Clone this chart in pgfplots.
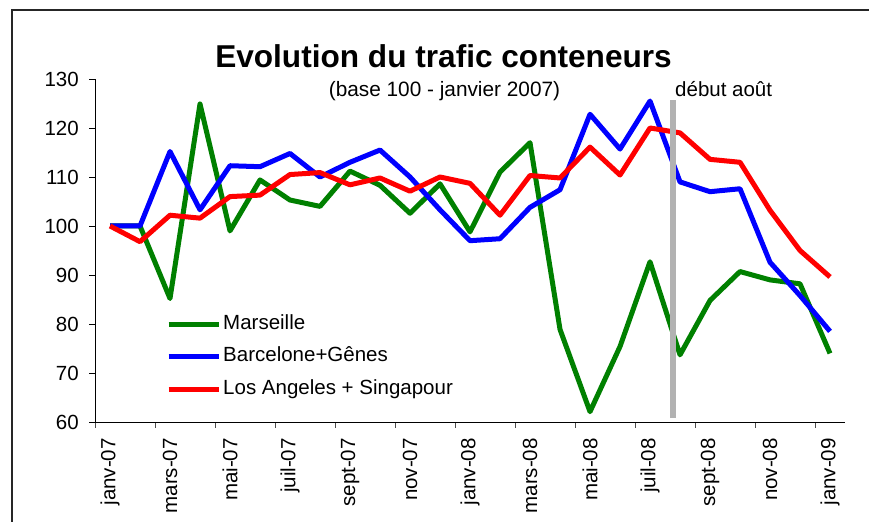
\documentclass[border=0pt]{standalone}
\usepackage{pgfplots}
\pgfplotsset{compat=1.18}
\usepackage{pgfplotstable}
\usepackage{fontspec}
\setmainfont{Liberation Sans}
\definecolor{mgreen}{RGB}{0,128,0}
\definecolor{mblue}{RGB}{0,0,255}
\definecolor{mred}{RGB}{255,0,0}
\definecolor{mgray}{RGB}{178,178,178}
\pgfplotstableread{
i  mar   bar   las
0  100   100   100
1  100   100   96.8
2  85.2  115.2 102.2
3  124.9 103.3 101.6
4  99.0  112.3 106.0
5  109.4 112.1 106.3
6  105.3 114.8 110.5
7  104.0 110.0 110.9
8  111.2 113.0 108.4
9  108.3 115.5 109.8
10 102.6 110.0 107.1
11 108.6 103.3 110.0
12 98.8  97.0  108.7
13 111.0 97.4  102.2
14 117.0 103.8 110.3
15 78.9  107.4 109.8
16 62.1  122.8 116.1
17 75.4  115.7 110.4
18 92.7  125.5 120.0
19 73.7  109.0 119.0
20 84.8  107.0 113.6
21 90.7  107.6 113.0
22 89.0  92.6  103.2
23 88.2  85.8  95.0
24 74.0  78.5  89.6
}\datatable
\begin{document}
\begin{tikzpicture}[x=1bp,y=1bp]
\useasboundingbox (0,0) rectangle (869,522);
\draw[line width=2bp, color=black!85] (12,-5) -- (12,512) -- (880,512);
\begin{axis}[
  at={(95bp,100bp)}, anchor=south west,
  width=750bp, height=343bp, scale only axis,
  xmin=-0.5, xmax=24.5, ymin=60, ymax=130,
  axis x line*=bottom, axis y line*=left,
  axis line style={line width=0.8bp, -},
  tick align=outside,
  ytick={60,70,...,130},
  major tick length=6bp, minor tick length=6bp,
  xtick={0,2,...,24},
  xticklabels={janv-07,mars-07,mai-07,juil-07,sept-07,nov-07,janv-08,mars-08,mai-08,juil-08,sept-08,nov-08,janv-09},
  x tick style={draw=none},
  minor xtick={-0.5,1.5,...,23.5},
  minor x tick style={draw=black!70, line width=0.8bp},
  y tick style={draw=black, line width=0.8bp},
  /pgf/number format/assume math mode=true,
  tick label style={font=\fontsize{20.5bp}{24bp}\selectfont},
  yticklabel style={anchor=east, inner sep=0pt, xshift=-10bp},
  xticklabel style={yshift=-10bp, rotate=90, anchor=east, inner sep=0pt},
  clip=false,
  legend style={draw=none, fill=none, at={(0.0947,0.3178)}, anchor=north west,
    font=\fontsize{20.5bp}{24bp}\selectfont, inner sep=0pt, row sep=10.8bp,
    nodes={inner sep=2bp, text height=14bp, text depth=4bp}},
  legend cell align=left,
  legend image code/.code={\draw[#1, line width=5bp] (0bp,0bp) -- (50bp,0bp);},
]
\addplot[mgreen, line width=5bp, line join=round] table[x=i, y=mar] {\datatable};
\addlegendentry{Marseille}
\addplot[mblue, line width=5bp, line join=round] table[x=i, y=bar] {\datatable};
\addlegendentry{Barcelone+Gênes}
\addplot[mred, line width=5bp, line join=round] table[x=i, y=las] {\datatable};
\addlegendentry{Los Angeles + Singapour}
\addplot[mgray, line width=6bp, forget plot] coordinates {(18.75,60.8) (18.75,125.7)};
\end{axis}
\node[anchor=base, inner sep=0pt, font=\fontsize{31.6bp}{36bp}\selectfont\bfseries] at (443.5,454) {Evolution du trafic conteneurs};
\node[anchor=base, inner sep=0pt, font=\fontsize{20.8bp}{24bp}\selectfont] at (444.5,425) {(base 100 - janvier 2007)};
\node[anchor=base west, inner sep=0pt, font=\fontsize{20.5bp}{24bp}\selectfont] at (675,425) {début août};
\end{tikzpicture}
\end{document}
